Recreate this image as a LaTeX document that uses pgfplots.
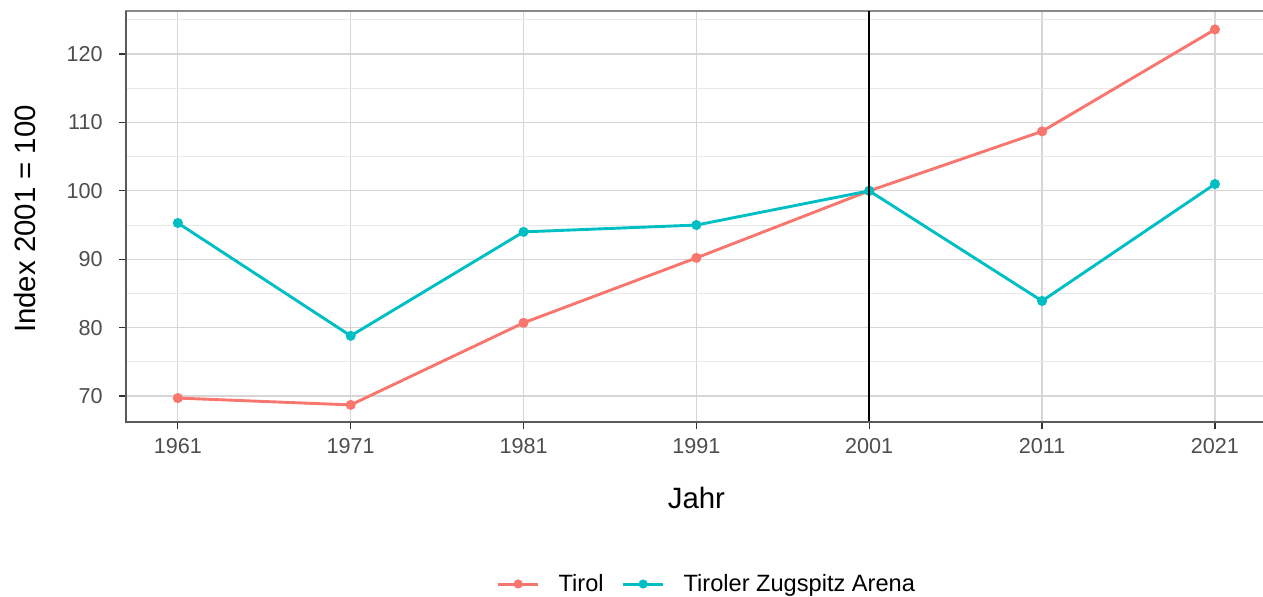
\documentclass[border=0pt]{standalone}
\usepackage{fontspec}
\setmainfont{Liberation Sans}
\usepackage{pgfplots}
\pgfplotsset{compat=1.18}
\definecolor{tirol}{HTML}{F8766D}
\definecolor{zug}{HTML}{00BFC4}
\definecolor{gridmaj}{HTML}{D6D6D6}
\definecolor{gridmin}{HTML}{E8E8E8}
\definecolor{tickcol}{HTML}{4D4D4D}
\definecolor{framecol}{HTML}{8A8A8A}
\definecolor{axiscol}{HTML}{5A5A5A}
\begin{document}
\begin{tikzpicture}
\useasboundingbox (-63pt,-87pt) rectangle (568.5pt,211pt);
\begin{axis}[
  at={(0,0)}, anchor=south west,
  scale only axis, width=570.4pt, height=205.5pt,
  xmin=1958, xmax=2024, ymin=66.2, ymax=126.3,
  xtick={1961,1971,...,2021}, ytick={70,80,...,120},
  minor ytick={65,75,...,125},
  grid=both,
  major grid style={gridmaj, line width=0.6pt},
  minor grid style={gridmin, line width=0.45pt},
  tick align=outside, major tick length=3.5pt, minor tick length=0pt,
  tick pos=left,
  tick style={color=black!80, line width=0.6pt},
  /pgf/number format/assume math mode=true,
  /pgf/number format/1000 sep={},
  ticklabel style={font=\fontsize{10.8}{13}\selectfont, text=tickcol, inner sep=0pt},
  yticklabel style={anchor=east, xshift=-8pt},
  xticklabel style={anchor=north, yshift=-4.5pt},
  axis line style={color=framecol, line width=0.6pt},
  clip mode=individual,
  xlabel={Jahr},
  ylabel={Index 2001 = 100},
  label style={font=\fontsize{14.7}{17}\selectfont, text=black},
  xlabel style={at={(axis description cs:0.5,0)}, anchor=base, yshift=-43pt},
  ylabel style={at={(axis description cs:0,0.494)}, anchor=center, yshift=50.75pt},
  legend style={at={(axis description cs:0.51,0)}, anchor=center, yshift=-81pt,
    draw=none, fill=none, font=\fontsize{11.8}{13}\selectfont,
    legend columns=-1,
    /tikz/every odd column/.append style={column sep=7.5pt},
    /tikz/every even column/.append style={column sep=7pt},
    inner sep=0pt},
  legend image code/.code={\draw[#1, line width=1.5pt, mark repeat=2, mark phase=2, mark options={scale=0.85}] plot coordinates {(0pt,0pt) (10pt,0pt) (20pt,0pt)};},
]
\addplot[tirol, line width=1.45pt, mark=*, mark size=1.75pt] coordinates {
  (1961,69.7) (1971,68.7) (1981,80.7) (1991,90.2) (2001,100) (2011,108.7) (2021,123.6)};
\addlegendentry{Tirol}
\addplot[zug, line width=1.45pt, mark=*, mark size=1.75pt] coordinates {
  (1961,95.3) (1971,78.8) (1981,94.0) (1991,95.0) (2001,100) (2011,83.9) (2021,101.0)};
\addlegendentry{Tiroler Zugspitz Arena}
\draw[black, line width=1pt] (axis cs:2001,66.2) -- (axis cs:2001,126.3);
\draw[axiscol, line width=0.7pt] (axis description cs:0,1) -- (axis description cs:0,0) -- (axis description cs:1,0);
\end{axis}
\end{tikzpicture}
\end{document}
